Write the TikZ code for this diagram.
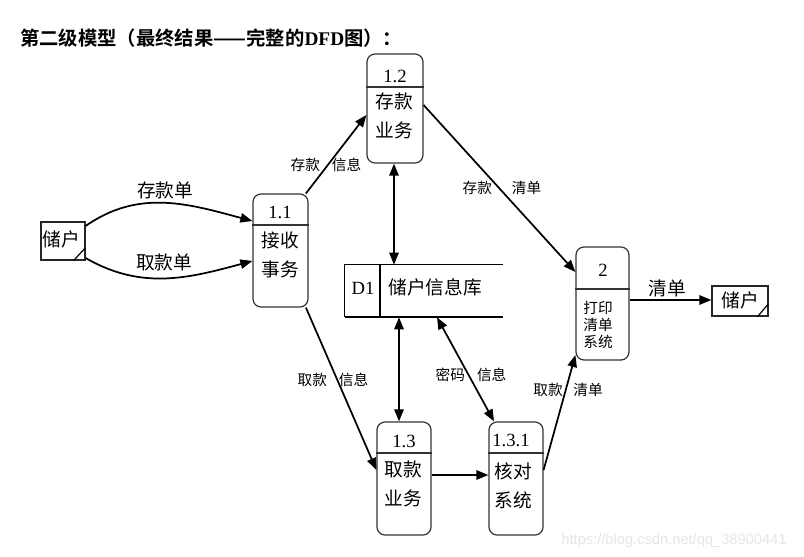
\documentclass[tikz,border=0pt]{standalone}
\usepackage{fontspec}
\setmainfont{Liberation Serif}
\newfontfamily\cjk[BoldFont={Noto Sans CJK SC Bold}]{Noto Sans CJK SC}
\newfontfamily\websans{Liberation Sans}
\usetikzlibrary{arrows.meta,fit}

\begin{document}
\begin{tikzpicture}[x=0.75pt, y=-0.75pt,
    proc/.style={draw=black!80, line width=0.9pt, rounded corners=6pt, inner sep=0pt},
    ent/.style={draw=black!85, line width=0.9pt, inner sep=0pt},
    flow/.style={line width=1.3pt, -{Triangle[length=9pt,width=7pt]}},
    both/.style={line width=1.3pt, {Triangle[length=9pt,width=7pt]}-{Triangle[length=9pt,width=7pt]}},
    lbl/.style={font=\cjk\fontsize{14}{22}\selectfont, align=center, inner sep=0pt},
    num/.style={font=\fontsize{14}{16}\selectfont, inner sep=0pt},
    small/.style={font=\cjk\fontsize{11}{13}\selectfont, inner sep=0pt}]

            \useasboundingbox (0,0) rectangle (804,557);

            \node (title) at (20,38) [anchor=west, inner sep=0pt] {\cjk\fontsize{14.5}{18}\selectfont\bfseries 第二级模型（最终结果——完整的{\rmfamily DFD}图）：};

            % external entities
            \node (u1) [ent, fit={(41,222) (85,260)}] {};
            \node (u1t) at (61,239) [lbl] {储户};
            \draw[line width=0.9pt] (u1.south east) ++(-12,0) -- ++(12,-13);
            \node (u2) [ent, fit={(712,286) (768,316)}] {};
            \node (u2t) at (740,300) [lbl] {储户};
            \draw[line width=0.9pt] (u2.south east) ++(-11,0) -- ++(11,-13);

            % processes
            \node (p11) [proc, fit={(253,194) (308,307)}] {};
            \draw[line width=0.9pt, black!80] (p11.west |- 0,225) -- (p11.east |- 0,225);
            \node (p11n) at (280,212) [num] {1.1};
            \node (p11t) at (280,255) [lbl] {接收\\事务};

            \node (p12) [proc, fit={(367,54) (423,163)}] {};
            \draw[line width=0.9pt, black!80] (p12.west |- 0,87) -- (p12.east |- 0,87);
            \node (p12n) at (395,76) [num] {1.2};
            \node (p12t) at (394,116) [lbl] {存款\\业务};

            \node (p13) [proc, fit={(377,422) (431,535)}] {};
            \draw[line width=0.9pt, black!80] (p13.west |- 0,453) -- (p13.east |- 0,453);
            \node (p13n) at (404,441) [num] {1.3};
            \node (p13t) at (403,484) [lbl] {取款\\业务};

            \node (p131) [proc, fit={(489,422) (543,535)}] {};
            \draw[line width=1.4pt, black!80] (p131.west |- 0,453) -- (p131.east |- 0,453);
            \node (p131n) at (511,440) [num] {1.3.1};
            \node (p131t) at (513,486) [lbl] {核对\\系统};

            \node (p2) [proc, fit={(576,247) (629,360)}] {};
            \draw[line width=0.9pt, black!80] (p2.west |- 0,289) -- (p2.east |- 0,289);
            \node (p2n) at (603,270) [num] {2};
            \node (p2t) at (598,325) [font=\cjk\fontsize{11}{12.8}\selectfont, align=left, inner sep=0pt] {打印\\清单\\系统};

            % data store
            \node (d1) [inner sep=0pt, fit={(345,265) (503,317)}] {};
            \draw[line width=0.9pt] (d1.north east) -- (d1.north west) -- (d1.south west);
            \draw[line width=1.4pt] (d1.south west) -- (d1.south east);
            \draw[line width=0.9pt] (d1.north west -| 380,0) -- (d1.south west -| 380,0);
            \node (d1n) at (363,288) [num] {D1};
            \node (d1t) at (435,287) [lbl] {储户信息库};

            % flows
            \draw[flow] (u1.east |- 0,226) to[out=35,in=165] (p11.west |- 0,221);
            \draw[flow] (u1.east |- 0,258) to[out=-30,in=195] (p11.west |- 0,261);
            \draw[flow] (p11.66) -- (p12.west |- 0,115);
            \draw[flow] (p12.east |- 0,105) -- (p2.west |- 0,272);
            \draw[both] (p12.south -| 394,0) -- (d1.north -| 394,0);
            \draw[both] (d1.south -| 399,0) -- (p13.north -| 399,0);
            \draw[both] (d1.south -| 437,0) -- (p131.north -| 494,0);
            \draw[flow] (p11.-66) -- (p13.west |- 0,470);
            \draw[flow] (p13.east |- 0,475) -- (p131.west |- 0,475);
            \draw[flow] (p131.east |- 0,470) -- (p2.west |- 0,355);
            \draw[flow] (p2.east |- 0,300) -- (u2.west |- 0,300);

            \node (f1) at (165,190) [lbl] {存款单};
            \node (f2) at (164,262) [lbl] {取款单};
            \node (f3) at (326,165) [small] {存款\hspace{9pt}信息};
            \node (f4) at (502,188) [small] {存款\hspace{15pt}清单};
            \node (f5) at (333,380) [small] {取款\hspace{9pt}信息};
            \node (f6) at (471,375) [small] {密码\hspace{9pt}信息};
            \node (f7) at (568,390) [small] {取款\hspace{8pt}清单};
            \node (f8) at (667,288) [lbl] {清单};

            \node (wm) at (674,541) [font=\websans\fontsize{11}{13}\selectfont, text=black!10, inner sep=0pt] {https://blog.csdn.net/qq\_38900441};
        \end{tikzpicture}
\end{document}
